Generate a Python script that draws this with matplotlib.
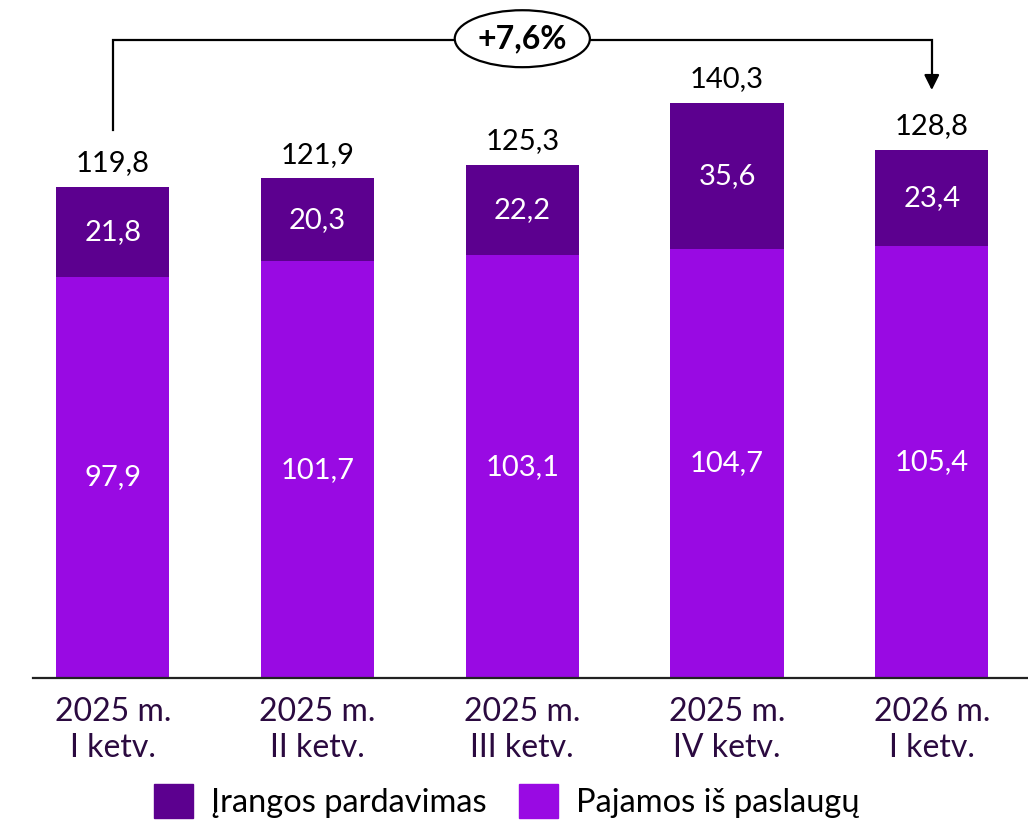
import matplotlib
matplotlib.use("Agg")
import matplotlib.pyplot as plt
from matplotlib.patches import Ellipse, Patch

quarters = ["2025 m.\nI ketv.", "2025 m.\nII ketv.", "2025 m.\nIII ketv.", "2025 m.\nIV ketv.", "2026 m.\nI ketv."]
services = [97.9, 101.7, 103.1, 104.7, 105.4]
equipment = [21.8, 20.3, 22.2, 35.6, 23.4]
totals = [119.8, 121.9, 125.3, 140.3, 128.8]
growth = "+7,6%"

DARK = "#5c008f"
LIGHT = "#990ae3"
TXT = "#2b0a40"
plt.rcParams["font.family"] = ["Lato", "DejaVu Sans"]

fig = plt.figure(figsize=(10.28, 8.23), dpi=100)
ax = fig.add_axes([33 / 1028, 1 - 678 / 823, 1 - 33 / 1028, 678 / 823])
x = list(range(len(quarters)))
w = 0.553
ax.bar(x, services, w, color=LIGHT, label="Pajamos iš paslaugų")
ax.bar(x, equipment, w, bottom=services, color=DARK, label="Įrangos pardavimas")

fs = 21
for i in x:
    ax.text(i, services[i] / 2, f"{services[i]:.1f}".replace(".", ","), ha="center", va="center",
            color="white", fontsize=fs)
    ax.text(i, services[i] + equipment[i] / 2, f"{equipment[i]:.1f}".replace(".", ","), ha="center",
            va="center", color="white", fontsize=fs)
    ax.text(i, totals[i] + 2.6, f"{totals[i]:.1f}".replace(".", ","), ha="center", va="bottom",
            color="black", fontsize=fs)

# growth bracket
top = 155.7
ax.plot([0, 0, 4, 4], [totals[0] + 13.9, top, top, totals[4] + 17], color="black", lw=1.6,
        solid_joinstyle="miter", clip_on=False)
ax.annotate("", xy=(4, totals[4] + 14), xytext=(4, totals[4] + 19),
            arrowprops=dict(arrowstyle="-|>,head_length=0.9,head_width=0.45", color="black", lw=1.6),
            annotation_clip=False)
ax.add_patch(Ellipse((2, top + 0.3), 0.66, 13.9, facecolor="white", edgecolor="black", lw=1.6,
                     clip_on=False, zorder=3))
ax.text(2, top + 0.3, growth, ha="center", va="center", fontsize=23, fontweight="bold", zorder=4)

ax.set_xlim(-0.39, 4.47)
ax.set_ylim(0, 678 / 4.098)
ax.set_xticks(x)
ax.set_xticklabels(quarters, fontsize=23, color=TXT, linespacing=1.25)
ax.tick_params(axis="x", length=0, pad=14)
ax.set_yticks([])
for s in ["top", "right", "left"]:
    ax.spines[s].set_visible(False)
ax.spines["bottom"].set_linewidth(1.6)
ax.spines["bottom"].set_color("#222222")

handles = [Patch(color=DARK, label="Įrangos pardavimas"), Patch(color=LIGHT, label="Pajamos iš paslaugų")]
fig.legend(handles=handles, loc="lower center", bbox_to_anchor=(0.493, -0.03), ncol=2, frameon=False,
           fontsize=23.5, handlelength=1.2, handleheight=1.25, handletextpad=0.55, columnspacing=1.0)

fig.savefig("out.png", dpi=100)
